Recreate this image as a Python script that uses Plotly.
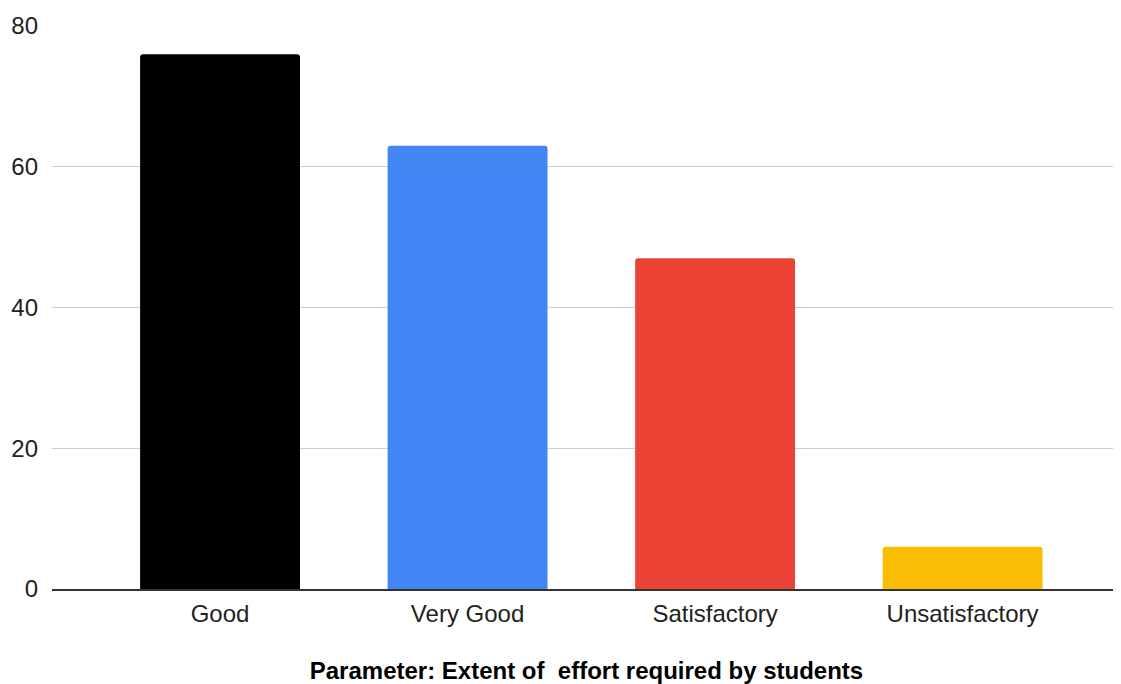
import plotly.graph_objects as go

categories = ["Good", "Very Good", "Satisfactory", "Unsatisfactory"]
values = [76, 63, 47, 6]
colors = ["#000000", "#4285F4", "#EA4335", "#FBBC04"]
x_title = "Parameter: Extent of  effort required by students"
y_ticks = [0, 20, 40, 60, 80]

fig = go.Figure(
    go.Bar(
        x=categories,
        y=values,
        marker=dict(color=colors, line=dict(width=0), cornerradius=3),
        width=0.646,
    )
)

fig.update_layout(
    width=1113,
    height=676,
    margin=dict(l=44, r=0, t=18, b=95),
    paper_bgcolor="white",
    plot_bgcolor="white",
    font=dict(family="Liberation Sans, Arial, sans-serif", size=24, color="#222222"),
    showlegend=False,
)

fig.update_xaxes(
    range=[-0.679, 3.64],
    showgrid=False,
    showline=True,
    linecolor="#333333",
    linewidth=1.5,
    ticks="",
    ticklabelstandoff=2,
    tickfont=dict(size=24, color="#222222"),
    title=dict(
        text="<b>" + x_title + "</b>",
        font=dict(size=24, color="#000000"),
        standoff=38,
    ),
)

fig.update_yaxes(
    range=[0, 80],
    tickvals=y_ticks,
    showgrid=True,
    gridcolor="#cccccc",
    gridwidth=1,
    zeroline=False,
    showline=False,
    ticks="",
    ticklabelstandoff=13,
    tickfont=dict(size=24, color="#222222"),
)

fig.write_html("out.html")
